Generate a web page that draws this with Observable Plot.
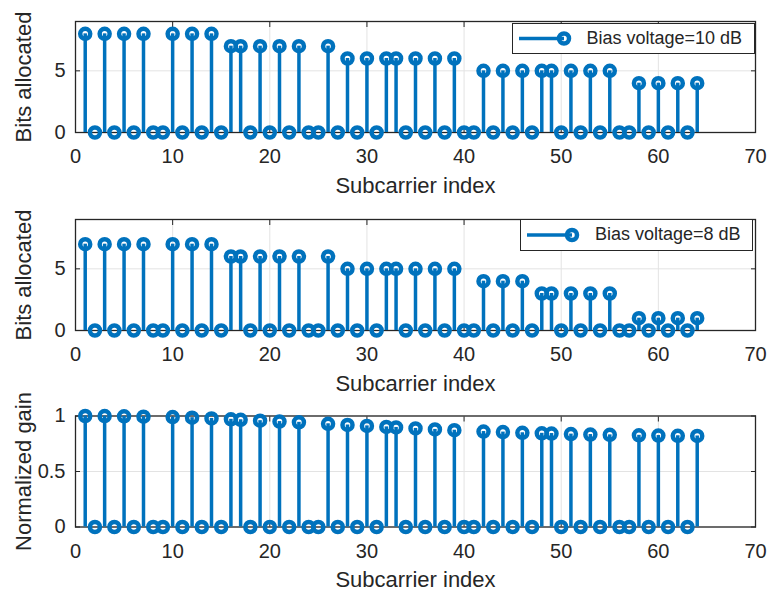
<!DOCTYPE html>
<html>
<head>
<meta charset="utf-8">
<script src="https://cdn.jsdelivr.net/npm/d3@7"></script>
<script src="https://cdn.jsdelivr.net/npm/@observablehq/plot@0.6"></script>
<style>
  body { margin: 0; background: #fff; }
  #fig { position: relative; width: 768px; height: 592px; overflow: hidden; background: #fff;
         font-family: "Liberation Sans", Arial, Helvetica, sans-serif; }
  #fig svg { display: block; }
  .legend { position: absolute; box-sizing: border-box; background: #fff; border: 1px solid #262626;
            color: #262626; font-size: 18px; white-space: nowrap; }
  .legend svg { position: absolute; left: 0; top: 0; }
  .legend span { position: absolute; top: 0; bottom: 0; display: flex; align-items: center; }
</style>
</head>
<body>
<div id="fig"></div>
<script>
// Subcarriers that carry data and the ones left idle (value 0)
const activeSubcarriers = [1, 3, 5, 7, 10, 12, 14, 16, 17, 19, 21, 23, 26, 28, 30, 32,
                           33, 35, 37, 39, 42, 44, 46, 48, 49, 51, 53, 55, 58, 60, 62, 64];
const idleSubcarriers = [2, 4, 6, 8, 9, 11, 13, 15, 18, 20, 22, 24, 25, 27, 29, 31,
                         34, 36, 38, 40, 41, 43, 45, 47, 50, 52, 54, 56, 57, 59, 61, 63];

// Bits loaded on each active subcarrier
const bits10dB = [8, 8, 8, 8, 8, 8, 8, 7, 7, 7, 7, 7, 7, 6, 6, 6,
                  6, 6, 6, 6, 5, 5, 5, 5, 5, 5, 5, 5, 4, 4, 4, 4];
const bits8dB = [7, 7, 7, 7, 7, 7, 7, 6, 6, 6, 6, 6, 6, 5, 5, 5,
                 5, 5, 5, 5, 4, 4, 4, 3, 3, 3, 3, 3, 1, 1, 1, 1];
// Normalized channel gain of each active subcarrier
const normGain = [1.000, 0.999, 0.997, 0.994, 0.990, 0.985, 0.978, 0.970,
                  0.966, 0.958, 0.950, 0.943, 0.930, 0.919, 0.911, 0.902,
                  0.897, 0.888, 0.879, 0.872, 0.860, 0.855, 0.849, 0.844,
                  0.842, 0.837, 0.833, 0.830, 0.826, 0.824, 0.822, 0.820];

const xTicks = [0, 10, 20, 30, 40, 50, 60, 70];
const bitsTicks = [0, 5];
const gainTicks = [0, 0.5, 1];

const BLUE = "#0072BD";
const INK = "#262626";
const GRID = "#e3e3e3";
const FONT = '"Liberation Sans", Arial, Helvetica, sans-serif';

function rowsFor(values) {
  return [
    ...activeSubcarriers.map((k, i) => ({k, v: values[i]})),
    ...idleSubcarriers.map((k) => ({k, v: 0}))
  ];
}

function panel({values, yDomain, yTicks, yLabel, height, marginTop}) {
  const rows = rowsFor(values);
  const plotH = 111;
  return Plot.plot({
    width: 768,
    height,
    marginTop,
    marginBottom: height - marginTop - plotH,
    marginLeft: 75,
    marginRight: 13,
    style: {fontFamily: FONT, fontSize: "20px", color: INK, background: "#fff", overflow: "visible"},
    x: {domain: [0, 70]},
    y: {domain: yDomain},
    marks: [
      Plot.gridX({ticks: xTicks, stroke: GRID, strokeOpacity: 1}),
      Plot.gridY({ticks: yTicks, stroke: GRID, strokeOpacity: 1}),
      Plot.frame({stroke: INK, strokeWidth: 1.3}),
      // inward ticks on all four sides, labels on bottom and left
      Plot.axisX({ticks: xTicks, anchor: "bottom", tickSize: -5, tickPadding: 21.5, label: null, fontSize: 20}),
      Plot.axisX({ticks: xTicks, anchor: "top", tickSize: -5, tickFormat: () => "", label: null}),
      Plot.axisY({ticks: yTicks, anchor: "left", tickSize: -5, tickPadding: 15, label: null, fontSize: 20,
                  tickFormat: (d) => String(d)}),
      Plot.axisY({ticks: yTicks, anchor: "right", tickSize: -5, tickFormat: () => "", label: null}),
      // stems and open circle markers
      Plot.ruleX(rows.filter((d) => d.v !== 0), {x: "k", y1: 0, y2: "v", stroke: BLUE, strokeWidth: 3.5}),
      Plot.dot(rows, {x: "k", y: "v", r: 5, stroke: BLUE, strokeWidth: 4.5, fill: "none"}),
      // axis titles
      Plot.text(["Subcarrier index"], {text: (d) => d, frameAnchor: "bottom", dy: 53, fontSize: 22,
                                       lineAnchor: "middle", fill: INK}),
      Plot.text([yLabel], {text: (d) => d, frameAnchor: "left", dx: -52, rotate: -90, fontSize: 22,
                          lineAnchor: "middle", textAnchor: "middle", fill: INK})
    ]
  });
}

function legend({label, left, top, width, height, lineX1, lineX2, textX}) {
  const div = document.createElement("div");
  div.className = "legend";
  Object.assign(div.style, {left: left + "px", top: top + "px", width: width + "px", height: height + "px"});
  const cy = height / 2 - 1;
  div.innerHTML =
    `<svg width="${width}" height="${height}">
       <line x1="${lineX1}" x2="${lineX2}" y1="${cy}" y2="${cy}" stroke="${BLUE}" stroke-width="3.5"/>
       <circle cx="${lineX2}" cy="${cy}" r="5" fill="none" stroke="${BLUE}" stroke-width="4.5"/>
     </svg>
     <span style="left:${textX}px">${label}</span>`;
  return div;
}

const fig = document.getElementById("fig");
fig.append(
  panel({values: bits10dB, yDomain: [0, 9], yTicks: bitsTicks, yLabel: "Bits allocated", height: 197, marginTop: 21}),
  panel({values: bits8dB, yDomain: [0, 9], yTicks: bitsTicks, yLabel: "Bits allocated", height: 197, marginTop: 22}),
  panel({values: normGain, yDomain: [0, 1], yTicks: gainTicks, yLabel: "Normalized gain", height: 198, marginTop: 21.5})
);
fig.append(
  legend({label: "Bias voltage=10 dB", left: 511.5, top: 22.5, width: 243, height: 31, lineX1: 6, lineX2: 51, textX: 74}),
  legend({label: "Bias voltage=8 dB", left: 520, top: 218.5, width: 233, height: 32, lineX1: 6, lineX2: 51, textX: 74})
);
</script>
</body>
</html>
